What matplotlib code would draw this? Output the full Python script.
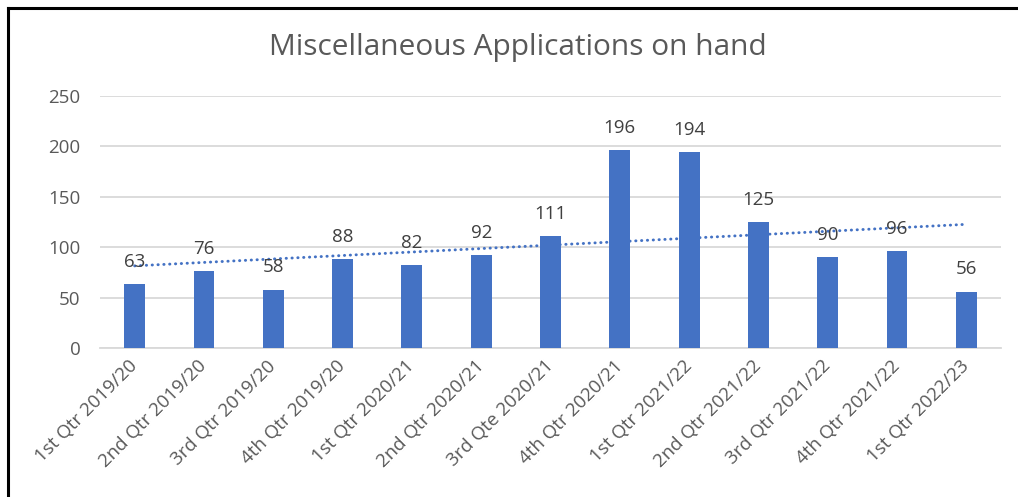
import matplotlib
matplotlib.use("Agg")
import matplotlib.pyplot as plt
import numpy as np
from matplotlib.lines import Line2D

categories = ["1st Qtr 2019/20", "2nd Qtr 2019/20", "3rd Qtr 2019/20", "4th Qtr 2019/20",
              "1st Qtr 2020/21", "2nd Qtr 2020/21", "3rd Qte 2020/21", "4th Qtr 2020/21",
              "1st Qtr 2021/22", "2nd Qtr 2021/22", "3rd Qtr 2021/22", "4th Qtr 2021/22",
              "1st Qtr 2022/23"]
values = [63, 76, 58, 88, 82, 92, 111, 196, 194, 125, 90, 96, 56]
yticks = [0, 50, 100, 150, 200, 250]
title = "Miscellaneous Applications on hand"

plt.rcParams['font.family'] = ['Open Sans', 'DejaVu Sans']

W, H = 1018, 497
fig = plt.figure(figsize=(W / 100, H / 100), dpi=100)
ax = fig.add_axes([100 / W, 1 - 348 / H, (1001 - 100) / W, (348 - 96) / H])

x = np.arange(len(values))
bar_color = "#4472C4"
ax.bar(x, values, width=0.30, color=bar_color, zorder=3)

# linear trendline
coef = np.polyfit(x, values, 1)
ax.plot(x, np.polyval(coef, x), linestyle=(0, (0.1, 1.9)), color=bar_color,
        linewidth=2.1, zorder=4, dash_capstyle='round')

for xi, v in zip(x, values):
    ax.annotate(str(v), (xi, v), xytext=(0, 16), textcoords='offset points',
                ha='center', va='center', fontsize=13.5, color='#404040', zorder=5)

ax.set_xlim(-0.5, len(values) - 0.5)
ax.set_ylim(0, 250)
ax.set_yticks(yticks)
ax.set_yticklabels([str(t) for t in yticks])
ax.set_xticks(x)
ax.set_xticklabels(categories, rotation=45, ha='right', va='center', rotation_mode='anchor')
ax.tick_params(axis='y', length=0, pad=14, labelsize=13.5, labelcolor='#595959')
ax.tick_params(axis='x', length=0, pad=11, labelsize=13.5, labelcolor='#595959')
ax.grid(axis='y', color='#D9D9D9', linewidth=1.3, zorder=0)
for s in ['top', 'right', 'left']:
    ax.spines[s].set_visible(False)
ax.spines['bottom'].set_color('#D9D9D9')
ax.spines['bottom'].set_linewidth(1.3)
ax.set_axisbelow(True)

fig.text(518 / W, 1 - 47 / H, title, ha='center', va='center', fontsize=21.5, color='#595959')

# outer border (screenshot frame)
fig.add_artist(Line2D([8 / W, 8 / W], [0, 1 - 7.5 / H], color='black', linewidth=2.2,
                      transform=fig.transFigure))
fig.add_artist(Line2D([8 / W, 1], [1 - 7.5 / H, 1 - 7.5 / H], color='black', linewidth=2.2,
                      transform=fig.transFigure))

fig.savefig("out.png", dpi=100)
